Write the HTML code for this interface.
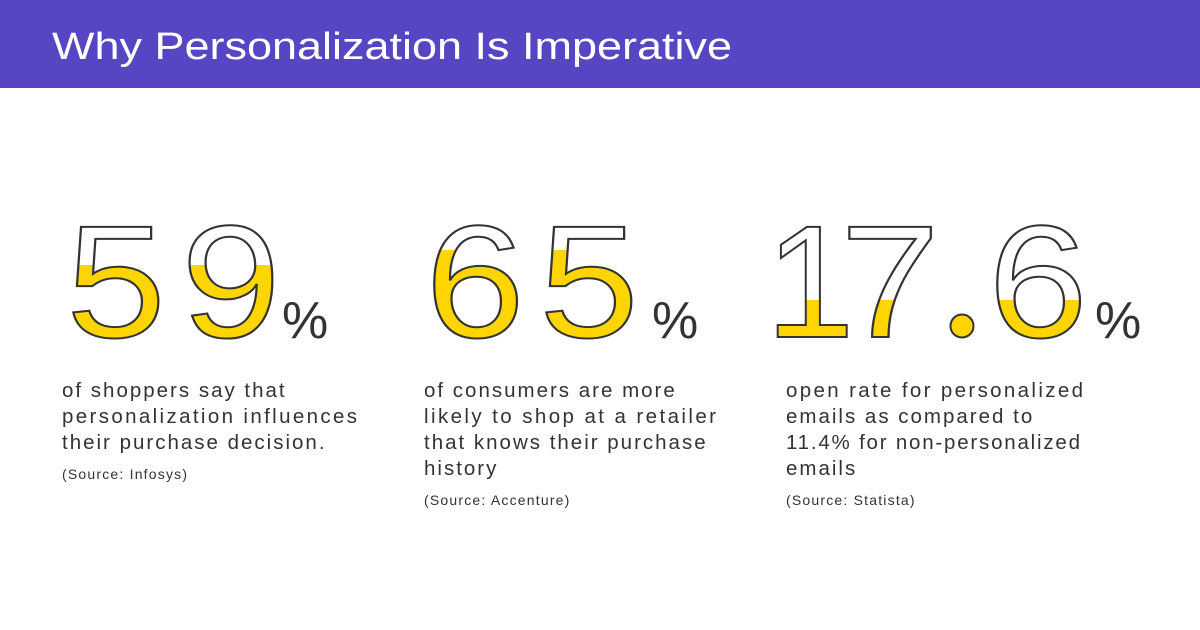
<!DOCTYPE html>
<html><head><meta charset="utf-8"><style>
html,body{margin:0;padding:0;background:#fff;}
svg{display:block}
text{font-family:"Liberation Sans",sans-serif;}
</style></head><body>
<svg width="1200" height="630" viewBox="0 0 1200 630" xmlns="http://www.w3.org/2000/svg">
<defs>
<clipPath id="c1"><rect x="0" y="265" width="400" height="200"/></clipPath>
<clipPath id="c2"><rect x="400" y="250" width="360" height="200"/></clipPath>
<clipPath id="c3"><rect x="760" y="300" width="440" height="200"/></clipPath>
<g id="d5a"><text transform="translate(116 337) scale(1.12 1)">5</text></g>
<g id="d9"><text transform="translate(231 337) scale(1.12 1)">9</text></g>
<g id="d6a"><text transform="translate(475 337) scale(1.12 1)">6</text></g>
<g id="d5b"><text transform="translate(589 337) scale(1.12 1)">5</text></g>
<g id="d1"><text transform="translate(810 337) scale(1.0 1)">1</text></g>
<g id="d7"><text transform="translate(890 337) scale(1.12 1)">7</text></g>
<g id="d6b"><text transform="translate(1038 337) scale(1.12 1)">6</text></g>
</defs>
<rect x="0" y="0" width="1200" height="88" fill="#5746C4"/>
<text x="52" y="59" font-size="38" fill="#fff" textLength="680" lengthAdjust="spacingAndGlyphs">Why Personalization Is Imperative</text>

<g font-size="160" text-anchor="middle">
<g clip-path="url(#c1)" fill="#FFD500"><use href="#d5a"/><use href="#d9"/></g>
<g clip-path="url(#c2)" fill="#FFD500"><use href="#d6a"/><use href="#d5b"/></g>
<g clip-path="url(#c3)" fill="#FFD500"><use href="#d1"/><use href="#d7"/><use href="#d6b"/></g>
<g fill="none" stroke="#333" stroke-width="2">
<use href="#d5a"/><use href="#d9"/><use href="#d6a"/><use href="#d5b"/><use href="#d1"/><use href="#d7"/><use href="#d6b"/>
</g>
</g>
<circle cx="962" cy="326" r="11.5" fill="#FFD500" stroke="#333" stroke-width="2"/>
<g font-size="52" fill="#333">
<text x="282" y="338">%</text><text x="652" y="338">%</text><text x="1095" y="338">%</text>
</g>

<g font-size="20.5" fill="#333" letter-spacing="2">
<text x="62" y="397">of shoppers say that</text>
<text x="62" y="423" textLength="297">personalization influences</text>
<text x="62" y="449">their purchase decision.</text>
<text x="424" y="397">of consumers are more</text>
<text x="424" y="423" textLength="294">likely to shop at a retailer</text>
<text x="424" y="449">that knows their purchase</text>
<text x="424" y="475">history</text>
<text x="786" y="397" textLength="299">open rate for personalized</text>
<text x="786" y="423">emails as compared to</text>
<text x="786" y="449" textLength="296">11.4% for non-personalized</text>
<text x="786" y="475">emails</text>
</g>
<g font-size="14" fill="#333" letter-spacing="1.2">
<text x="62" y="479">(Source: Infosys)</text>
<text x="424" y="505">(Source: Accenture)</text>
<text x="786" y="505">(Source: Statista)</text>
</g>
</svg>
</body></html>
